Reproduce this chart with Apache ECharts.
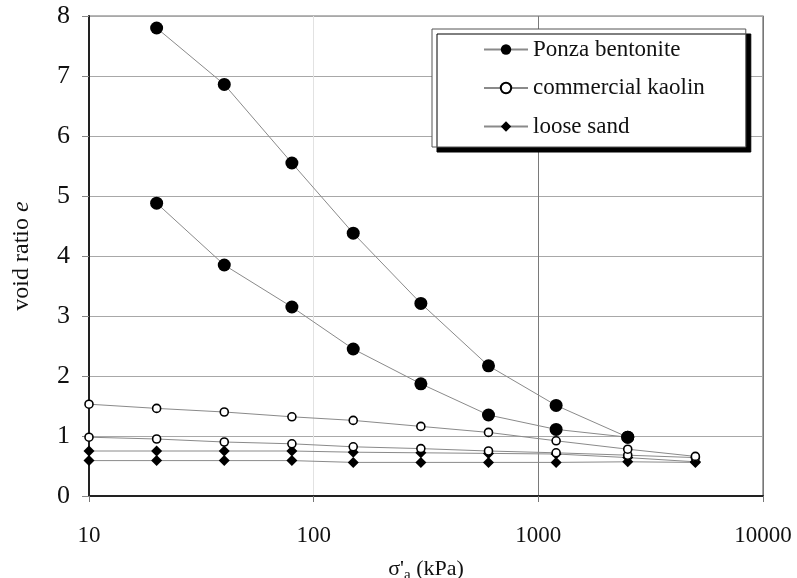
<!DOCTYPE html>
<html>
<head>
<meta charset="utf-8">
<script src="https://cdn.jsdelivr.net/npm/echarts@6/dist/echarts.min.js"></script>
<style>
  html, body { margin: 0; padding: 0; background: #fff; }
  #chart { width: 797px; height: 578px; }
</style>
</head>
<body>
<div id="chart"></div>
<script>
// Vertical effective stress (kPa) at each load step
const stressBentonite = [20, 40, 80, 150, 300, 600, 1200, 2500];
const stressKaolinSand = [10, 20, 40, 80, 150, 300, 600, 1200, 2500, 5000];

// Void ratio e, two specimens per material
const bentoniteA = [7.80, 6.86, 5.55, 4.38, 3.21, 2.17, 1.51, 0.98];
const bentoniteB = [4.88, 3.85, 3.15, 2.45, 1.87, 1.35, 1.11, 0.98];
const kaolinA = [1.53, 1.46, 1.40, 1.32, 1.26, 1.16, 1.06, 0.92, 0.78, 0.66];
const kaolinB = [0.98, 0.95, 0.90, 0.87, 0.82, 0.79, 0.75, 0.72, 0.68, 0.64];
const sandA = [0.75, 0.75, 0.75, 0.75, 0.73, 0.72, 0.71, 0.70, 0.64, 0.57];
const sandB = [0.59, 0.59, 0.59, 0.59, 0.56, 0.56, 0.56, 0.56, 0.57, 0.56];

const materialNames = ['Ponza bentonite', 'commercial kaolin', 'loose sand'];
const yTicks = [0, 1, 2, 3, 4, 5, 6, 7, 8];

const pair = (xs, ys) => xs.map((x, i) => [x, ys[i]]);
const serif = '"Liberation Serif", "Times New Roman", serif';
const lineStyle = { color: '#8a8a8a', width: 1 };

const styles = {
  'Ponza bentonite': { symbol: 'circle', symbolSize: 13, itemStyle: { color: '#000', borderColor: '#000', borderWidth: 0 } },
  'commercial kaolin': { symbol: 'circle', symbolSize: 8, itemStyle: { color: '#fff', borderColor: '#000', borderWidth: 1.6 } },
  'loose sand': { symbol: 'diamond', symbolSize: [11, 11], itemStyle: { color: '#000', borderColor: '#000', borderWidth: 0 } }
};

function makeSeries(name, xs, ys, z) {
  return Object.assign({
    name: name,
    type: 'line',
    data: pair(xs, ys),
    lineStyle: lineStyle,
    showAllSymbol: true,
    animation: false,
    z: z
  }, styles[name]);
}

const series = [
  makeSeries('loose sand', stressKaolinSand, sandB, 2),
  makeSeries('loose sand', stressKaolinSand, sandA, 2),
  makeSeries('commercial kaolin', stressKaolinSand, kaolinB, 3),
  makeSeries('commercial kaolin', stressKaolinSand, kaolinA, 3),
  makeSeries('Ponza bentonite', stressBentonite, bentoniteB, 4),
  makeSeries('Ponza bentonite', stressBentonite, bentoniteA, 4)
];

const chart = echarts.init(document.getElementById('chart'), null, { renderer: 'canvas' });
chart.setOption({
  backgroundColor: '#fff',
  animation: false,
  textStyle: { fontFamily: serif, color: '#111' },
  grid: {
    left: 89, right: 34, top: 16, bottom: 82,
    containLabel: false,
    outerBoundsMode: 'none',
    show: true, borderColor: '#6e6e6e', borderWidth: 1.2
  },
  legend: {
    data: materialNames,
    orient: 'vertical',
    left: 432,
    top: 29,
    padding: [9, 41, 9, 51],
    itemWidth: 44,
    itemHeight: 13,
    itemGap: 15.5,
    itemTextGap: 8,
    backgroundColor: '#fff',
    borderColor: '#555',
    borderWidth: 1,
    shadowColor: '#000',
    shadowBlur: 0,
    shadowOffsetX: 5,
    shadowOffsetY: 5,
    textStyle: { fontFamily: serif, fontSize: 23, color: '#111', lineHeight: 22 }
  },
  xAxis: {
    type: 'log',
    logBase: 10,
    min: 10,
    max: 10000,
    name: "{s|σ'}{sub|a}{s| (kPa)}",
    nameLocation: 'middle',
    nameGap: 60,
    nameTextStyle: {
      rich: {
        s: { fontFamily: serif, fontSize: 22, color: '#111' },
        sub: { fontFamily: serif, fontSize: 15, color: '#111', padding: [12, 0, 0, 0] }
      }
    },
    axisLine: { show: true, lineStyle: { color: '#222', width: 2 } },
    axisTick: { show: true, length: 6, lineStyle: { color: '#777' } },
    minorTick: { show: false },
    axisLabel: {
      fontFamily: serif, fontSize: 23, color: '#111', margin: 28,
      formatter: (v) => String(Math.round(v))
    },
    splitLine: { show: true, lineStyle: { color: ['#777', '#e2e2e2', '#7a7a7a', '#777'], width: 1 } }
  },
  yAxis: {
    type: 'value',
    min: yTicks[0],
    max: yTicks[yTicks.length - 1],
    interval: 1,
    name: 'void ratio {i|e}',
    nameLocation: 'middle',
    nameGap: 55,
    nameTextStyle: {
      fontFamily: serif, fontSize: 24, color: '#111',
      rich: { i: { fontFamily: serif, fontSize: 24, fontStyle: 'italic', color: '#111' } }
    },
    axisLine: { show: true, lineStyle: { color: '#222', width: 2 } },
    axisTick: { show: true, length: 7, lineStyle: { color: '#888' } },
    axisLabel: { fontFamily: serif, fontSize: 26, color: '#111', margin: 19 },
    splitLine: { show: true, lineStyle: { color: '#a8a8a8', width: 1 } }
  },
  series: series
});
</script>
</body>
</html>
